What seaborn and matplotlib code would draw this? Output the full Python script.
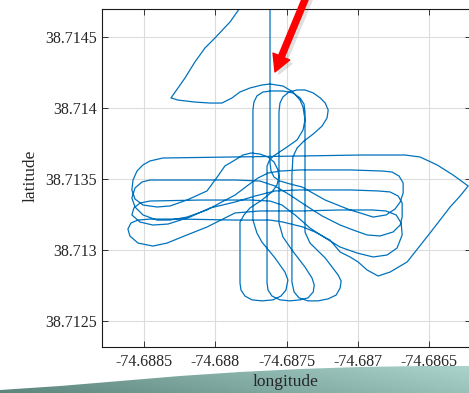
import numpy as np
import pandas as pd
import matplotlib
matplotlib.use("Agg")
import matplotlib.pyplot as plt
import matplotlib.patheffects as pe
from matplotlib.path import Path
from matplotlib.patches import PathPatch
import seaborn as sns

# Reference point of the survey; track samples are stored as offsets
# from it in micro-degrees.
REF_LON = -74.6885
REF_LAT = 38.714

# Inbound leg from the north-west and the first turn over the site
approach_lon_u = [687, 603, 497, 427, 356, 286, 237, 188, 237, 356, 462, 546,
                  617, 673, 743, 827, 884, 975, 1045, 1095, 1116, 1130, 1116,
                  1074, 1003, 919, 884, 863]
approach_lat_u = [727, 608, 495, 425, 326, 213, 143, 73, 58, 44, 37, 37,
                  73, 115, 143, 164, 171, 157, 115, 58, 9, -82, -153,
                  -223, -273, -329, -357, -406]

# North-south passes with teardrop turns at both ends
ns_lon_u = [863, 863, 863,
            870, 898, 954, 1025, 1095, 1151, 1188, 1195, 1179, 1130,
            1038, 975, 947, 947, 947,
            954, 975, 1018, 1074, 1130, 1188, 1237, 1272, 1293, 1285, 1250,
            1188, 1123, 1074, 1045,
            1038, 1038, 1038,
            1053, 1088, 1151, 1222, 1293, 1349, 1377, 1384, 1363,
            1272, 1165, 1130, 1130, 1130, 1130,
            1123, 1095, 1045, 975, 898, 835, 792, 771, 764,
            764, 764, 792, 827, 919, 989, 1010,
            996, 961, 905, 827, 757, 708, 680, 673,
            673,
            701, 743, 827, 898, 933, 947, 940, 912, 870, 813, 750, 694, 638, 567]
ns_lat_u = [-470, -857, -1230,
            -1280, -1322, -1349, -1356, -1349, -1335, -1293, -1244, -1195, -1118,
            -998, -906, -808, -364, -26,
            37, 80, 115, 129, 129, 108, 73, 37, -12, -68, -125,
            -181, -230, -280, -343,
            -470, -928, -1223,
            -1293, -1335, -1356, -1356, -1342, -1315, -1265, -1216, -1174,
            -1054, -949, -871, -787, -364, -26,
            30, 73, 108, 122, 122, 115, 87, 44, -12,
            -364, -787, -878, -942, -1054, -1153, -1209,
            -1280, -1322, -1349, -1356, -1349, -1322, -1280, -1230,
            -801,
            -751, -702, -646, -589, -540, -484, -434, -378, -343, -322, -315,
            -329, -364, -406]

# East-west passes, then the outbound leg to the north
ew_lon_u = [518, 441, 300, 181, 89, -9, -65, -87, -79, -51, -9, 40, 131,
            638, 1095, 1518, 1834, 1939, 2059, 2171, 2277,
            2220, 2150, 2009, 1848, 1728, 1644, 1567, 1503, 1447, 1377, 1306,
            1200, 1116, 975, 884, 638,
            251, 40, -44, -94, -115, -101, -44, 61, 160, 300, 441, 511, 638,
            813, 1095, 1377, 1601, 1700, 1771, 1806, 1813, 1777, 1707, 1609,
            1496, 1377, 1272, 1165, 1060, 968, 884,
            743, 392, 40, -30, -73, -87, -30, 61, 167, 321, 462, 638, 778, 919,
            1095, 1447, 1644,
            1728, 1785, 1813, 1813, 1799, 1749, 1658, 1567, 1468, 1377, 1250,
            1130, 1025, 919, 813, 638, 251, 40,
            -16, -65, -87, -65, -9, 89, 181, 300, 441, 532, 638,
            722, 799, 870, 954, 1095, 1447,
            1679, 1742, 1791, 1820, 1820, 1799, 1763, 1700, 1609, 1518, 1447,
            1272, 1109,
            1025, 954, 912, 891, 884, 884, 884, 884]
ew_lat_u = [-477, -582, -646, -688, -695, -681, -639, -575, -505, -442, -399,
            -371, -350,
            -343, -336, -329, -329, -343, -399, -470, -547,
            -618, -695, -878, -1082, -1153, -1181, -1139, -1082, -1047, -1012,
            -928, -871, -836, -801, -787, -787,
            -780, -780, -787, -808, -850, -899, -949, -970, -949, -892, -836,
            -801, -737,
            -723, -723, -716, -716, -723, -751, -808, -892, -984, -1033, -1047,
            -1019, -977, -913, -843, -751, -681, -653,
            -646, -646, -653, -667, -702, -751, -801, -822, -815, -766, -702,
            -660, -618, -582, -575, -575, -582,
            -589, -618, -667, -766, -822, -871, -899, -892, -857, -822, -758,
            -681, -611, -547, -512, -505, -505, -505,
            -519, -561, -632, -695, -751, -787, -787, -766, -716, -667, -611,
            -547, -491, -456, -442, -434, -434,
            -442, -449, -477, -526, -596, -660, -709, -751, -766, -737, -716,
            -646, -554,
            -533, -512, -484, -442, -385, -294, 58, 727]

x_ticks = [-74.6885, -74.688, -74.6875, -74.687, -74.6865]
x_tick_labels = ["-74.6885", "-74.688", "-74.6875", "-74.687", "-74.6865"]
y_ticks = [38.7125, 38.713, 38.7135, 38.714, 38.7145]
y_tick_labels = ["38.7125", "38.713", "38.7135", "38.714", "38.7145"]
x_limits = (-74.688797, -74.686203)
y_limits = (38.712319, 38.714697)

# Callout arrow pointing at the outbound leg
arrow_tip = (-74.687581, 38.714256)
arrow_tail = (-74.687342, 38.714833)

sns.set_style("ticks")
plt.rcParams["font.family"] = ["Liberation Serif", "DejaVu Serif"]

lon = REF_LON + np.array(approach_lon_u + ns_lon_u + ew_lon_u) * 1e-6
lat = REF_LAT + np.array(approach_lat_u + ns_lat_u + ew_lat_u) * 1e-6
track = pd.DataFrame({"longitude": lon, "latitude": lat})

fig = plt.figure(figsize=(4.69, 3.93), dpi=100)
fig.patch.set_facecolor("white")

# Decorative teal band along the bottom edge
bg = fig.add_axes([0, 0, 1, 1], zorder=0)
bg.set_xlim(0, 1)
bg.set_ylim(0, 1)
bg.axis("off")
top_x = np.array([0, 60, 120, 180, 240, 300, 360, 420, 469]) / 469
top_y = 1 - np.array([390, 386, 381, 376, 372, 369, 367, 366, 366]) / 393
verts = list(zip(top_x, top_y)) + [(1, 0), (0, 0), (top_x[0], top_y[0])]
codes = [Path.MOVETO] + [Path.LINETO] * (len(verts) - 2) + [Path.CLOSEPOLY]
band = PathPatch(Path(verts, codes), facecolor="none", edgecolor="none")
bg.add_patch(band)
gx = np.linspace(0, 1, 200)
gy = np.linspace(0, 1, 40)
GX, GY = np.meshgrid(gx, gy)
left_c = np.array([0.36, 0.52, 0.49])
right_c = np.array([0.60, 0.76, 0.73])
img = left_c[None, None, :] * (1 - GX[..., None]) + right_c[None, None, :] * GX[..., None]
img = img + 0.08 * GY[..., None]
img = np.clip(img, 0, 1)
im = bg.imshow(img, extent=[0, 1, 0, 0.075], origin="lower", aspect="auto")
im.set_clip_path(band)

ax = fig.add_axes([0.2175, 0.1170, 0.7868, 0.8593], zorder=1)
ax.patch.set_facecolor("white")
ax.set_axisbelow(True)

sns.lineplot(data=track, x="longitude", y="latitude", sort=False,
             estimator=None, color="#0072BD", linewidth=0.9, ax=ax)

ax.set_xlim(*x_limits)
ax.set_ylim(*y_limits)
ax.set_xticks(x_ticks)
ax.set_xticklabels(x_tick_labels)
ax.set_yticks(y_ticks)
ax.set_yticklabels(y_tick_labels)
ax.grid(True, color="#dcdcdc", linewidth=0.8)
for s in ax.spines.values():
    s.set_visible(True)
    s.set_color("#1a1a1a")
    s.set_linewidth(0.8)
ax.tick_params(direction="in", length=4, width=0.6, top=True, right=True,
               labelsize=11.5, labelcolor="#262626", color="#1a1a1a", pad=5)
ax.tick_params(axis="y", pad=3.5)

ax.set_xlabel("longitude", fontsize=12.5, color="#262626")
ax.set_ylabel("latitude", fontsize=12.5, color="#262626")
ax.xaxis.set_label_coords(0.497, -0.079)
ax.yaxis.set_label_coords(-0.172, 0.506)

ax.annotate("", xy=arrow_tip, xytext=arrow_tail, xycoords="data",
            textcoords="data", annotation_clip=False,
            arrowprops=dict(arrowstyle="simple,head_length=12,head_width=13,tail_width=4.3",
                            mutation_scale=1, color="#ff0000", shrinkA=0, shrinkB=0,
                            path_effects=[pe.SimplePatchShadow(offset=(2.5, -2.5),
                                                               shadow_rgbFace="0.45",
                                                               alpha=0.22),
                                          pe.Normal()]))

fig.savefig("out.png", dpi=100)
